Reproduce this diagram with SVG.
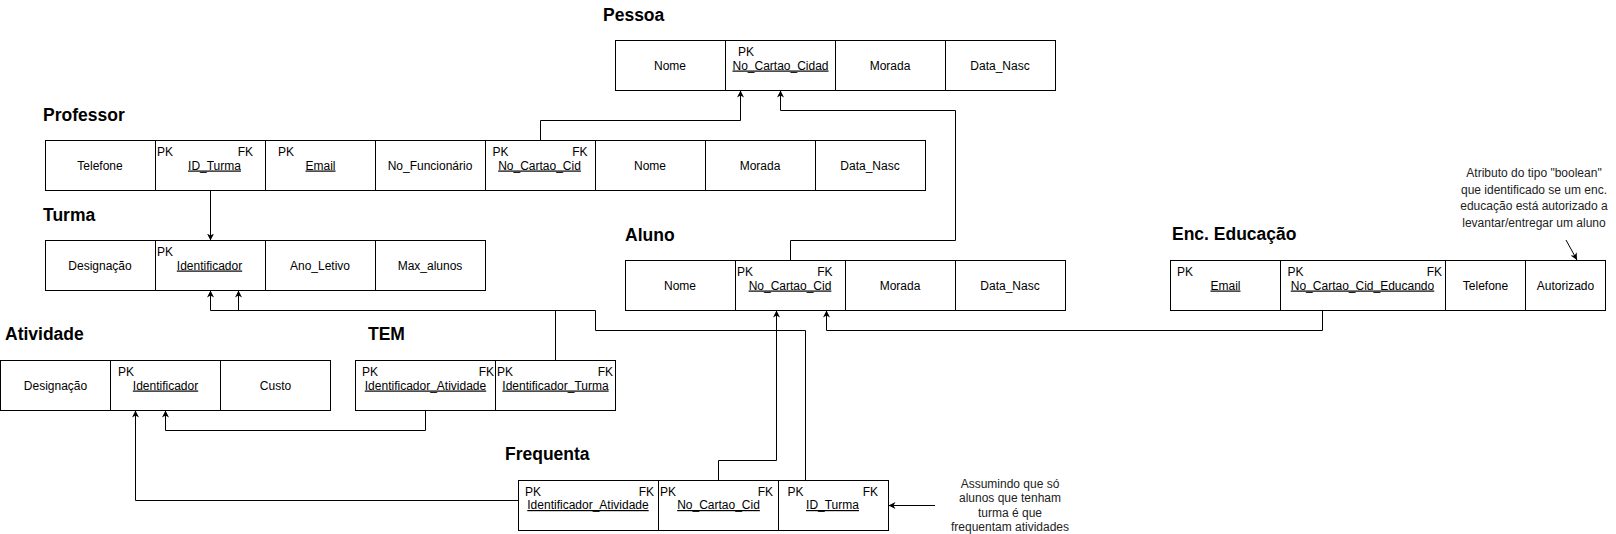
<svg xmlns="http://www.w3.org/2000/svg" width="1616" height="534" viewBox="0 0 1616 534">
<style>
.c{fill:#fff;stroke:#000;stroke-width:1}
.t{font-family:"Liberation Sans",Arial,Helvetica,sans-serif;font-size:12px;fill:#000;text-anchor:middle}
.k{font-family:"Liberation Sans",Arial,Helvetica,sans-serif;font-size:12px;fill:#000}
.r{text-anchor:end}
.u{text-decoration:underline}
.h{font-family:"Liberation Sans",Arial,Helvetica,sans-serif;font-size:17.5px;font-weight:bold;fill:#000}
.n{font-family:"Liberation Sans",Arial,Helvetica,sans-serif;font-size:12px;fill:#222;text-anchor:middle}
.e{fill:none;stroke:#000;stroke-width:1;marker-end:url(#arr)}
</style>
<defs>
<marker id="arr" markerUnits="userSpaceOnUse" markerWidth="10" markerHeight="10" refX="7" refY="4" orient="auto">
<path d="M0,0.5 L7,4 L0,7.5 L2,4 Z" fill="#000"/>
</marker>
</defs>
<rect width="1616" height="534" fill="#fff"/>

<g id="pessoa">
<text class="h" x="603" y="21">Pessoa</text>
<rect class="c" x="615.5" y="40.5" width="110" height="50"/>
<rect class="c" x="725.5" y="40.5" width="110" height="50"/>
<rect class="c" x="835.5" y="40.5" width="110" height="50"/>
<rect class="c" x="945.5" y="40.5" width="110" height="50"/>
<text class="t" x="670" y="69.5">Nome</text>
<text class="k" x="738" y="55.5">PK</text>
<text class="t u" x="780.5" y="69.5">No_Cartao_Cidad</text>
<text class="t" x="890" y="69.5">Morada</text>
<text class="t" x="1000" y="69.5">Data_Nasc</text>
</g>

<g id="professor">
<text class="h" x="43" y="121">Professor</text>
<rect class="c" x="45.5" y="140.5" width="110" height="50"/>
<rect class="c" x="155.5" y="140.5" width="110" height="50"/>
<rect class="c" x="265.5" y="140.5" width="110" height="50"/>
<rect class="c" x="375.5" y="140.5" width="110" height="50"/>
<rect class="c" x="485.5" y="140.5" width="110" height="50"/>
<rect class="c" x="595.5" y="140.5" width="110" height="50"/>
<rect class="c" x="705.5" y="140.5" width="110" height="50"/>
<rect class="c" x="815.5" y="140.5" width="110" height="50"/>
<text class="t" x="100" y="169.5">Telefone</text>
<text class="k" x="157" y="155.5">PK</text>
<text class="k r" x="253" y="155.5">FK</text>
<text class="t u" x="214.5" y="169.5">ID_Turma</text>
<text class="k" x="278" y="155.5">PK</text>
<text class="t u" x="320.5" y="169.5">Email</text>
<text class="t" x="430" y="169.5">No_Funcionário</text>
<text class="k" x="492.5" y="155.5">PK</text>
<text class="k r" x="587.5" y="155.5">FK</text>
<text class="t u" x="539.5" y="169.5">No_Cartao_Cid</text>
<text class="t" x="650" y="169.5">Nome</text>
<text class="t" x="760" y="169.5">Morada</text>
<text class="t" x="870" y="169.5">Data_Nasc</text>
</g>

<g id="turma">
<text class="h" x="43" y="221">Turma</text>
<rect class="c" x="45.5" y="240.5" width="110" height="50"/>
<rect class="c" x="155.5" y="240.5" width="110" height="50"/>
<rect class="c" x="265.5" y="240.5" width="110" height="50"/>
<rect class="c" x="375.5" y="240.5" width="110" height="50"/>
<text class="t" x="100" y="269.5">Designação</text>
<text class="k" x="157" y="255.5">PK</text>
<text class="t u" x="209.5" y="269.5">Identificador</text>
<text class="t" x="320" y="269.5">Ano_Letivo</text>
<text class="t" x="430" y="269.5">Max_alunos</text>
</g>

<g id="aluno">
<text class="h" x="625" y="240.5">Aluno</text>
<rect class="c" x="625.5" y="260.5" width="110" height="50"/>
<rect class="c" x="735.5" y="260.5" width="110" height="50"/>
<rect class="c" x="845.5" y="260.5" width="110" height="50"/>
<rect class="c" x="955.5" y="260.5" width="110" height="50"/>
<text class="t" x="680" y="289.5">Nome</text>
<text class="k" x="737" y="275.5">PK</text>
<text class="k r" x="832.5" y="275.5">FK</text>
<text class="t u" x="790" y="289.5">No_Cartao_Cid</text>
<text class="t" x="900" y="289.5">Morada</text>
<text class="t" x="1010" y="289.5">Data_Nasc</text>
</g>

<g id="enc-educacao">
<text class="h" x="1172" y="239.5">Enc. Educação</text>
<rect class="c" x="1170.5" y="260.5" width="110" height="50"/>
<rect class="c" x="1280.5" y="260.5" width="165" height="50"/>
<rect class="c" x="1445.5" y="260.5" width="80" height="50"/>
<rect class="c" x="1525.5" y="260.5" width="80" height="50"/>
<text class="k" x="1177" y="275.5">PK</text>
<text class="t u" x="1225.5" y="289.5">Email</text>
<text class="k" x="1287.5" y="275.5">PK</text>
<text class="k r" x="1442" y="275.5">FK</text>
<text class="t u" x="1362.5" y="289.5">No_Cartao_Cid_Educando</text>
<text class="t" x="1485.5" y="289.5">Telefone</text>
<text class="t" x="1565.5" y="289.5">Autorizado</text>
</g>

<g id="nota-autorizado">
<text class="n" x="1534" y="177">Atributo do tipo "boolean"</text>
<text class="n" x="1534" y="193.5">que identificado se um enc.</text>
<text class="n" x="1534" y="210">educação está autorizado a</text>
<text class="n" x="1534" y="226.5">levantar/entregar um aluno</text>
</g>

<g id="atividade">
<text class="h" x="5" y="340">Atividade</text>
<rect class="c" x="0.5" y="360.5" width="110" height="50"/>
<rect class="c" x="110.5" y="360.5" width="110" height="50"/>
<rect class="c" x="220.5" y="360.5" width="110" height="50"/>
<text class="t" x="55.5" y="389.5">Designação</text>
<text class="k" x="118" y="375.5">PK</text>
<text class="t u" x="165.5" y="389.5">Identificador</text>
<text class="t" x="275.5" y="389.5">Custo</text>
</g>

<g id="tem">
<text class="h" x="368" y="340">TEM</text>
<rect class="c" x="355.5" y="360.5" width="140" height="50"/>
<rect class="c" x="495.5" y="360.5" width="120" height="50"/>
<text class="k" x="362" y="375.5">PK</text>
<text class="k r" x="494" y="375.5">FK</text>
<text class="t u" x="425.5" y="389.5">Identificador_Atividade</text>
<text class="k" x="497" y="375.5">PK</text>
<text class="k r" x="613" y="375.5">FK</text>
<text class="t u" x="555.5" y="389.5">Identificador_Turma</text>
</g>

<g id="frequenta">
<text class="h" x="505" y="460">Frequenta</text>
<rect class="c" x="518.5" y="480.5" width="140" height="50"/>
<rect class="c" x="658.5" y="480.5" width="120" height="50"/>
<rect class="c" x="778.5" y="480.5" width="110" height="50"/>
<text class="k" x="525" y="495.5">PK</text>
<text class="k r" x="654" y="495.5">FK</text>
<text class="t u" x="588" y="509">Identificador_Atividade</text>
<text class="k" x="660" y="495.5">PK</text>
<text class="k r" x="773" y="495.5">FK</text>
<text class="t u" x="718.5" y="509">No_Cartao_Cid</text>
<text class="k" x="787.5" y="495.5">PK</text>
<text class="k r" x="878" y="495.5">FK</text>
<text class="t u" x="832.5" y="509">ID_Turma</text>
</g>

<g id="nota-frequenta">
<text class="n" x="1010" y="488">Assumindo que só</text>
<text class="n" x="1010" y="502.4">alunos que tenham</text>
<text class="n" x="1010" y="516.8">turma é que</text>
<text class="n" x="1010" y="531.2">frequentam atividades</text>
</g>

<g id="connectors">
<path class="e" d="M540.5 140 V120.5 H740.5 V90.5"/>
<path class="e" d="M790.5 260 V240.5 H955.5 V110.5 H780.5 V90.5"/>
<path class="e" d="M210.5 190 V240.5"/>
<path class="e" d="M805.5 480 V330.5 H595.5 V310.5 H210.5 V290.5"/>
<path class="e" d="M555.5 360 V310.5 H238.5 V290.5"/>
<path class="e" d="M718.5 480 V460.5 H776.5 V310.5"/>
<path class="e" d="M1322.5 310 V330.5 H826.5 V310.5"/>
<path class="e" d="M425.5 410 V430.5 H165.5 V410.5"/>
<path class="e" d="M518 500.5 H135.5 V410.5"/>
<path class="e" d="M935 505.5 H888.5"/>
<path class="e" d="M1566 240 L1577 260"/>
</g>
</svg>
